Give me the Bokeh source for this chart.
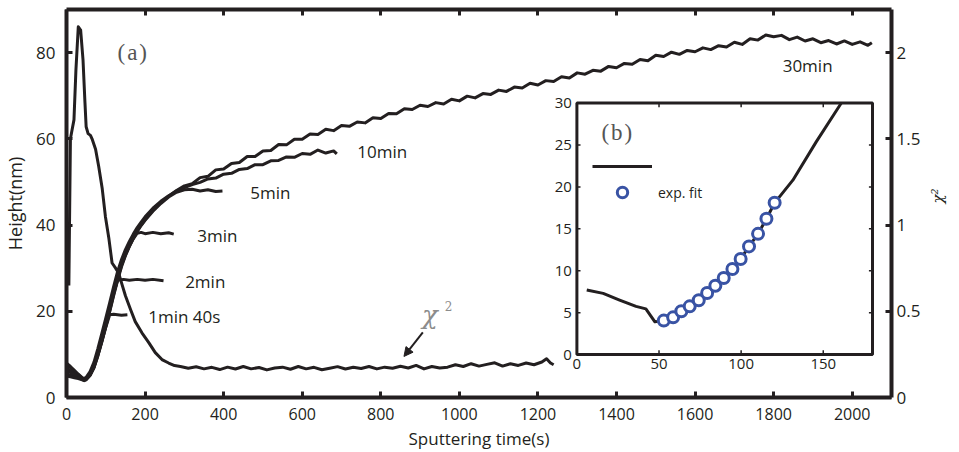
import math
from bokeh.plotting import figure
from bokeh.models import (Range1d, LinearAxis, FixedTicker, CustomJSTickFormatter, Arrow,
                          NormalHead, Legend, LegendItem, BoxAnnotation)
from bokeh.layouts import column
from bokeh.core.properties import value
from bokeh.embed import file_html
from bokeh.resources import INLINE

INK = "#231f20"
BLUE = "#3953a4"
SANS = "Open Sans"
SERIF = "Liberation Serif"

# ---------------- data ----------------
X_TICKS = [0, 200, 400, 600, 800, 1000, 1200, 1400, 1600, 1800, 2000]
Y_TICKS = [0, 20, 40, 60, 80]
CHI_TICKS = [0, 0.5, 1, 1.5, 2]
INSET_X_TICKS = [0, 50, 100, 150]
INSET_Y_TICKS = [0, 5, 10, 15, 20, 25, 30]

T_RISE = [0, 10, 20, 30, 40, 45, 50, 60, 70, 80, 90, 100, 110, 120, 130, 140, 150, 160, 170,
          180, 190, 200, 220, 240, 260, 280, 300]

# 30 min
T_30 = T_RISE + [320, 340, 360, 380, 400, 420, 440, 460, 480, 500,
                 520, 540, 560, 580, 600, 620, 640, 660, 680, 700,
                 720, 740, 760, 780, 800, 820, 840, 860, 880, 900,
                 920, 940, 960, 980, 1000, 1020, 1040, 1060, 1080, 1100,
                 1120, 1140, 1160, 1180, 1200, 1220, 1240, 1260, 1280, 1300,
                 1320, 1340, 1360, 1380, 1400, 1420, 1440, 1460, 1480, 1500,
                 1520, 1540, 1560, 1580, 1600, 1620, 1640, 1660, 1680, 1700,
                 1720, 1740, 1760, 1780, 1800, 1820, 1840, 1860, 1880, 1900,
                 1920, 1940, 1960, 1980, 2000, 2020, 2040, 2050]
H_30 = [7.6, 6.9, 6.1, 5.3, 4.5, 4.3, 4.5, 5.6, 7.5, 10.5, 13.8, 17.2, 20.7, 24.3, 28.0, 30.8,
        33.2, 35.2, 37.0, 38.6, 40.0, 41.2, 43.4, 45.2, 46.7, 48.0, 49.1] + [
        49.6, 51.0, 51.3, 52.8, 53.0, 54.3, 54.5, 55.9, 55.9, 57.2,
        57.3, 58.7, 58.6, 59.9, 59.9, 61.1, 61.0, 62.2, 61.9, 63.1,
        62.9, 63.9, 63.7, 64.9, 64.7, 65.9, 65.8, 67.0, 66.8, 67.8,
        67.5, 68.4, 68.1, 69.2, 68.8, 69.9, 69.5, 70.5, 70.3, 71.3,
        71.0, 72.0, 71.8, 72.9, 72.5, 73.5, 73.3, 74.4, 74.1, 75.3,
        75.0, 75.9, 75.7, 76.8, 76.5, 77.5, 77.3, 78.4, 78.1, 79.4,
        79.1, 80.1, 79.6, 80.5, 80.2, 81.1, 80.7, 81.6, 81.3, 82.4,
        81.9, 83.2, 82.9, 84.1, 83.7, 84.0, 83.0, 83.6, 82.7, 83.2,
        82.3, 82.8, 82.0, 82.7, 81.9, 82.5, 81.7, 82.3]

# 10 min
T_10 = T_RISE + [320, 340, 360, 380, 400, 420, 440, 460, 480, 500,
                 520, 540, 560, 580, 600, 620, 640, 660, 680, 688]
H_10 = [8.0, 7.2, 6.3, 5.4, 4.6, 4.4, 4.7, 6.0, 8.2, 11.4, 14.9, 18.4, 22.0, 25.7, 29.2, 32.0,
        34.3, 36.2, 37.9, 39.4, 40.7, 41.9, 43.9, 45.5, 46.8, 47.9, 48.7] + [
        49.4, 49.9, 50.7, 50.9, 51.8, 52.0, 52.9, 53.1, 54.0, 54.0,
        54.9, 55.0, 55.8, 55.7, 56.6, 56.4, 57.4, 56.7, 57.2, 56.5]

# 5 min
T_5 = T_RISE + [320, 340, 360, 380, 397]
H_5 = [6.8, 6.2, 5.6, 5.0, 4.3, 4.1, 4.3, 5.3, 7.1, 10.0, 13.2, 16.6, 20.1, 23.9, 27.5, 30.6,
       33.1, 35.1, 36.9, 38.5, 39.9, 41.1, 43.2, 45.0, 46.5, 47.6, 48.2] + [
       48.3, 47.9, 48.2, 47.8, 47.9]

# 3 min
T_3 = [0, 10, 20, 30, 40, 45, 50, 60, 70, 80, 90, 100, 110, 120, 130, 140, 150, 160, 170, 180,
       190, 200, 220, 240, 260, 273]
H_3 = [5.5, 5.2, 4.9, 4.6, 4.2, 4.0, 4.2, 5.2, 7.0, 9.8, 13.0, 16.4, 19.9, 23.6, 27.1, 30.3,
       32.9, 35.0, 36.8, 38.1, 38.3, 38.0, 38.3, 38.0, 38.2, 37.9]

# 2 min
T_2 = [0, 10, 20, 30, 40, 45, 50, 60, 70, 80, 90, 100, 110, 120, 130, 145, 160, 180, 200, 220, 247]
H_2 = [6.2, 5.8, 5.3, 4.8, 4.3, 4.1, 4.3, 5.4, 7.3, 10.2, 13.4, 16.9, 20.5, 24.2, 27.2, 27.4,
       27.2, 27.4, 27.2, 27.4, 27.1]

# 1 min 40 s
T_1 = [0, 10, 20, 30, 40, 45, 50, 60, 70, 80, 90, 100, 110, 120, 140, 155]
H_1 = [5.0, 4.8, 4.6, 4.4, 4.1, 3.9, 4.1, 5.1, 6.9, 9.7, 12.9, 16.3, 19.2, 19.3, 19.1, 19.2]

# chi^2 (right axis)
T_CHI = [6, 10, 14, 19, 24, 30, 36, 42, 47, 50, 55, 61, 65, 74, 82, 91, 99, 108, 116, 125, 133,
         142, 150, 163, 175, 192, 209, 226, 243, 260, 275,
         290, 310, 330, 350, 370, 390, 410, 430, 450, 470, 490, 510, 530, 550, 570, 590, 610,
         630, 650, 670, 690, 710, 730, 750, 770, 790, 810, 830, 850, 870, 890, 910, 930, 950,
         970, 990, 1010, 1030, 1050, 1070, 1090, 1110, 1130, 1150, 1170, 1190, 1210,
         1222, 1232, 1240]
CHI = [0.65, 1.50, 1.55, 1.61, 1.90, 2.15, 2.13, 1.96, 1.71, 1.57, 1.53, 1.52, 1.50, 1.44, 1.34,
       1.21, 1.05, 0.92, 0.78, 0.75, 0.72, 0.65, 0.59, 0.51, 0.44, 0.375, 0.32, 0.26, 0.22, 0.20,
       0.185,
       0.180, 0.170, 0.178, 0.166, 0.175, 0.162, 0.176, 0.165, 0.180, 0.166, 0.174, 0.160,
       0.171, 0.176, 0.164, 0.180, 0.166, 0.175, 0.161, 0.170, 0.179, 0.165, 0.175, 0.168,
       0.180, 0.166, 0.176, 0.170, 0.181, 0.171, 0.186, 0.166, 0.180, 0.171, 0.176, 0.190,
       0.180, 0.196, 0.182, 0.192, 0.201, 0.182, 0.196, 0.186, 0.200, 0.190, 0.206,
       0.225, 0.200, 0.190]

LABEL_TEXT = ["1min 40s", "2min", "3min", "5min", "10min", "30min"]
LABEL_T = [208, 302, 333, 468, 740, 1823]
LABEL_H = [18.8, 26.9, 37.6, 47.6, 57.1, 77.0]

# inset (b)
INSET_T = [6, 16, 26, 36, 42, 47.5, 53, 58.6, 63.6, 68.7, 74.2, 79.3, 84.3, 89.4, 94.7, 99.7,
           104.8, 110.3, 115.4, 120.4, 131.5, 145.8, 161]
INSET_V = [7.7, 7.3, 6.5, 5.75, 5.45, 3.9, 4.1, 4.45, 5.1, 5.7, 6.4, 7.3, 8.2, 9.1, 10.2, 11.4,
           12.9, 14.4, 16.2, 18.1, 20.8, 25.4, 30.0]
FIT_T = [52.9, 58.6, 63.6, 68.7, 74.2, 79.3, 84.3, 89.4, 94.7, 99.7, 104.8, 110.3, 115.4, 120.4]
FIT_V = [4.05, 4.44, 5.16, 5.75, 6.47, 7.34, 8.21, 9.13, 10.2, 11.4, 12.9, 14.4, 16.2, 18.1]

# where the inset sits, in the main chart's data units (layout, not data)
INSET_LEFT, INSET_RIGHT, INSET_BOTTOM, INSET_TOP = 1299.2, 2051.7, 9.96, 68.3
INSET_XMAX, INSET_YMAX = 180, 30

# ---------------- main figure ----------------
p = figure(width=959, height=452, x_range=Range1d(0, 2100), y_range=Range1d(0, 90),
           output_backend="svg", toolbar_location=None,
           min_border_left=66, min_border_top=9, min_border_right=67, min_border_bottom=54,
           background_fill_color=None, border_fill_color=None)
p.extra_y_ranges = {"chi": Range1d(0, 2.25)}
p.grid.visible = False
p.outline_line_color = None


def style_axis(ax, size="17px", width=4):
    ax.axis_line_color = INK
    ax.axis_line_width = width
    ax.major_tick_in = 6
    ax.major_tick_out = 0
    ax.major_tick_line_width = 3
    ax.major_tick_line_color = INK
    ax.minor_tick_line_color = None
    ax.major_label_text_font = SANS
    ax.major_label_text_font_size = size
    ax.major_label_text_color = INK
    ax.axis_label_text_font = SANS
    ax.axis_label_text_font_size = "18px"
    ax.axis_label_text_font_style = "normal"
    ax.axis_label_text_color = INK


xa = p.xaxis[0]
style_axis(xa, "16px")
xa.ticker = FixedTicker(ticks=X_TICKS)
xa.axis_label = "Sputtering time(s)"
xa.major_label_standoff = 10
xa.axis_label_standoff = 4
xa.axis_label_text_font_size = "17px"

ya = p.yaxis[0]
style_axis(ya)
ya.ticker = FixedTicker(ticks=Y_TICKS)
ya.axis_label = "Height(nm)"
ya.major_label_standoff = 11
ya.axis_label_standoff = 6

top = LinearAxis(ticker=FixedTicker(ticks=X_TICKS))
style_axis(top)
top.major_label_text_font_size = "0px"
top.major_label_standoff = 0
p.add_layout(top, "above")

ra = LinearAxis(y_range_name="chi", ticker=FixedTicker(ticks=CHI_TICKS),
                formatter=CustomJSTickFormatter(code="return tick.toString();"))
style_axis(ra)
ra.major_label_standoff = 5
ra.axis_label = "χ²"
ra.axis_label_text_font = "DejaVu Serif"
ra.axis_label_text_font_style = "italic"
ra.axis_label_text_font_size = "15px"
ra.axis_label_standoff = 15
ra.axis_label_orientation = math.pi / 2
p.add_layout(ra, "right")

for tt, hh in [(T_30, H_30), (T_10, H_10), (T_5, H_5), (T_3, H_3), (T_2, H_2), (T_1, H_1)]:
    p.line(tt, hh, line_width=3, line_color=INK, line_join="round")
p.line(T_CHI, CHI, y_range_name="chi", line_width=3, line_color=INK, line_join="round")

p.text(x=LABEL_T, y=LABEL_H, text=LABEL_TEXT, text_font=value(SANS), text_font_size="17px",
       text_baseline="middle", text_align="left", text_color=INK)
p.text(x=[130], y=[80], text=["(\u200aa\u200a)"], text_font=value(SERIF), text_font_size="23px",
       text_baseline="middle", text_align="left", text_color="#555555")
p.text(x=[905], y=[0.48], y_range_name="chi", text=["χ"], text_font=value("DejaVu Serif"),
       text_font_style="italic", text_font_size="26px", text_baseline="alphabetic",
       text_color="#8c8c8c")
p.text(x=[963], y=[0.53], y_range_name="chi", text=["2"], text_font=value("DejaVu Serif"),
       text_font_size="12px", text_baseline="alphabetic", text_color="#8c8c8c")
p.add_layout(Arrow(end=NormalHead(size=9, fill_color=INK, line_color=INK),
                   x_start=907, y_start=0.377, x_end=859, y_end=0.238, y_range_name="chi",
                   line_width=2, line_color=INK))


def legend_for(line_r, fit_r, loc):
    return Legend(items=[LegendItem(label=" ", renderers=[line_r]),
                         LegendItem(label="exp. fit", renderers=[fit_r])],
                  location=loc, padding=0, spacing=0, margin=0, glyph_width=60,
                  glyph_height=26, label_height=26, label_standoff=6, border_line_color=None,
                  background_fill_alpha=0, label_text_font=SANS, label_text_font_size="14px",
                  label_text_color=INK)


# ---------------- inset (b): sub-coordinates inside the main chart ----------------
root = p
try:
    sub = p.subplot(x_source=Range1d(0, INSET_XMAX), y_source=Range1d(0, INSET_YMAX),
                    x_target=Range1d(INSET_LEFT, INSET_RIGHT),
                    y_target=Range1d(INSET_BOTTOM, INSET_TOP))
    p.add_layout(BoxAnnotation(left=INSET_LEFT, right=INSET_RIGHT, bottom=INSET_BOTTOM,
                               top=INSET_TOP, fill_color=None, fill_alpha=0,
                               line_color=INK, line_width=3, line_alpha=1, level="underlay"))
    n_x = len(INSET_X_TICKS)
    n_y = len(INSET_Y_TICKS)
    # tick marks on all four sides (pointing inward)
    sub.segment(x0=INSET_X_TICKS, y0=[0] * n_x, x1=INSET_X_TICKS, y1=[0.5] * n_x,
                line_width=1.5, line_color=INK)
    sub.segment(x0=INSET_X_TICKS, y0=[INSET_YMAX] * n_x, x1=INSET_X_TICKS,
                y1=[INSET_YMAX - 0.5] * n_x, line_width=1.5, line_color=INK)
    sub.segment(x0=[0] * n_y, y0=INSET_Y_TICKS, x1=[2.2] * n_y, y1=INSET_Y_TICKS,
                line_width=1.5, line_color=INK)
    sub.segment(x0=[INSET_XMAX] * n_y, y0=INSET_Y_TICKS, x1=[INSET_XMAX - 2.2] * n_y,
                y1=INSET_Y_TICKS, line_width=1.5, line_color=INK)
    # tick labels
    sub.text(x=INSET_X_TICKS, y=[0] * n_x, text=[str(t) for t in INSET_X_TICKS],
             text_font=value(SANS), text_font_size="15px", text_align="center",
             text_baseline="top", y_offset=4, text_color=INK)
    sub.text(x=[0] * n_y, y=INSET_Y_TICKS, text=[str(t) for t in INSET_Y_TICKS],
             text_font=value(SANS), text_font_size="15px", text_align="right",
             text_baseline="middle", x_offset=-5, text_color=INK)
    inset_line = sub.line(INSET_T, INSET_V, line_width=3, line_color=INK, line_join="round")
    fit = sub.scatter(FIT_T, FIT_V, marker="circle", size=11, line_width=3, line_color=BLUE,
                      fill_color="white")
    sub.text(x=[15], y=[26.5], text=["(\u200ab\u200a)"], text_font=value(SERIF),
             text_font_size="23px", text_baseline="middle", text_align="left",
             text_color="#555555")
    p.add_layout(legend_for(inset_line, fit, (526, 192)))
except (AttributeError, TypeError):
    q = figure(width=324, height=286, x_range=Range1d(0, INSET_XMAX),
               y_range=Range1d(0, INSET_YMAX), output_backend="svg", toolbar_location=None,
               min_border_left=24, min_border_top=12, min_border_right=4, min_border_bottom=22,
               background_fill_color=None, border_fill_color=None, margin=(-361, 0, 0, 553))
    q.grid.visible = False
    q.outline_line_color = INK
    q.outline_line_width = 3
    for ax in q.axis:
        ax.major_label_text_font = SANS
        ax.major_label_text_font_size = "15px"
        ax.major_tick_in = 4
        ax.major_tick_out = 0
        ax.minor_tick_line_color = None
    q.xaxis[0].ticker = FixedTicker(ticks=INSET_X_TICKS)
    q.yaxis[0].ticker = FixedTicker(ticks=INSET_Y_TICKS)
    inset_line = q.line(INSET_T, INSET_V, line_width=3, line_color=INK)
    fit = q.scatter(FIT_T, FIT_V, marker="circle", size=11, line_width=3, line_color=BLUE,
                    fill_color="white")
    q.add_layout(legend_for(inset_line, fit, (15, 149)))
    root = column(p, q)

open("out.html", "w").write(file_html(root, INLINE))
